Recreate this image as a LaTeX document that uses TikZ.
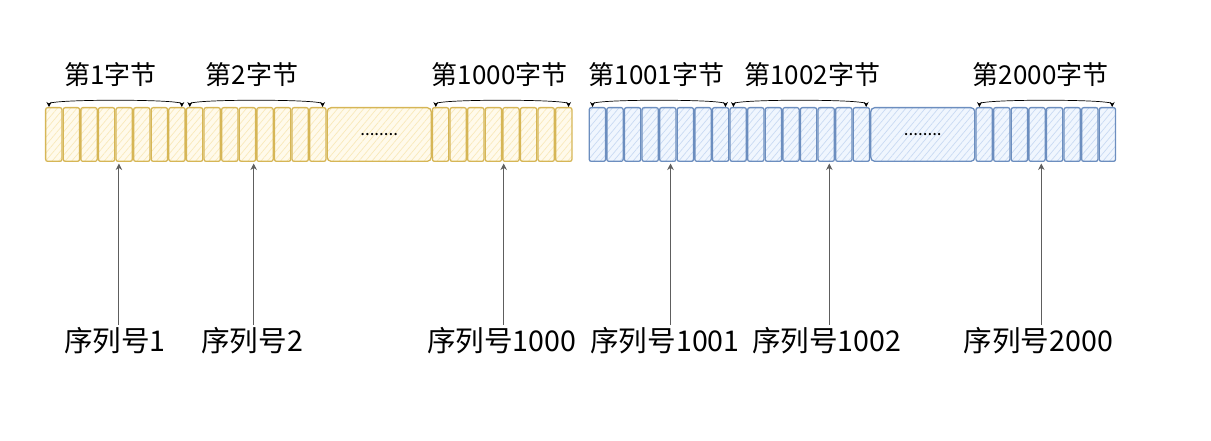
\documentclass[tikz,border=0pt]{standalone}
\usepackage{fontspec}
\setmainfont{Noto Sans CJK SC}
\usetikzlibrary{positioning, matrix, arrows.meta, patterns.meta}
\definecolor{ylwline}{HTML}{D6B656}
\definecolor{ylwfill}{HTML}{FFF2CC}
\definecolor{bluline}{HTML}{6C8EBF}
\definecolor{blufill}{HTML}{DAE8FC}
\definecolor{arrgray}{HTML}{5E5E5E}

\begin{document}
\begin{tikzpicture}[x=1pt, y=-1pt,
        bit/.style={draw, rounded corners=2pt, line width=1.3pt, minimum width=16.3pt,
            minimum height=53.7pt, inner sep=0pt, outer sep=0pt},
        ybit/.style={bit, draw=ylwline, preaction={fill=ylwfill!40},
            pattern={Lines[angle=50, distance=5pt, line width=0.7pt]}, pattern color=ylwfill!85!ylwline},
        bbit/.style={bit, draw=bluline, preaction={fill=blufill!40},
            pattern={Lines[angle=50, distance=5pt, line width=0.7pt]}, pattern color=blufill!85!bluline},
        gapbox/.style={minimum width=104pt, minimum height=53.7pt, rounded corners=4pt, font=\fontsize{17}{17}\selectfont},
        toplbl/.style={font=\fontsize{26}{26}\selectfont, inner sep=0pt},
        seqlbl/.style={font=\fontsize{28.6}{28.6}\selectfont, inner sep=0pt},
        arr/.style={-{Stealth[length=6.5pt, width=6.5pt]}, draw=arrgray, line width=0.9pt, shorten >=1.5pt, shorten <=3pt},
        brc/.style={{Stealth[length=5pt, width=5pt]}-{Stealth[length=5pt, width=5pt]}, line width=0.7pt},
        byterow/.style={matrix of nodes, nodes in empty cells, column sep=0pt},
        every matrix/.style={inner sep=0pt, outer sep=0pt, ampersand replacement=\&},
    ]
    \useasboundingbox (0,0) rectangle (1211,441);

    % === yellow bytes ===
    \matrix (Y1) [byterow, nodes={ybit}, anchor=north west] at (45,107) {
        \& \& \& \& \& \& \& \\
    };
    \matrix (Y2) [byterow, nodes={ybit}, right=0pt of Y1] {
        \& \& \& \& \& \& \& \\
    };
    \node[ybit, gapbox, right=0.6pt of Y2] (YD) {........};
    \matrix (Y3) [byterow, nodes={ybit}, right=0.6pt of YD] {
        \& \& \& \& \& \& \& \\
    };

    % === blue bytes ===
    \matrix (B1) [byterow, nodes={bbit}, right=16pt of Y3] {
        \& \& \& \& \& \& \& \\
    };
    \matrix (B2) [byterow, nodes={bbit}, right=0pt of B1] {
        \& \& \& \& \& \& \& \\
    };
    \node[bbit, gapbox, right=0.6pt of B2] (BD) {........};
    \matrix (B3) [byterow, nodes={bbit}, right=0.6pt of BD] {
        \& \& \& \& \& \& \& \\
    };

    % === byte labels ===
    \foreach \g/\dx/\t in {Y1/-5/第1字节, Y2/-4/第2字节, Y3/-2.5/第1000字节,
            B1/-2.5/第1001字节, B2/12.5/第1002字节, B3/-5/第2000字节} {
        \node[toplbl] (T\g) at ([xshift=\dx pt, yshift=32pt]\g.north) {\t};
        \draw[brc] ([xshift=4pt]\g.north west) .. controls ([xshift=4pt, yshift=8pt]\g.north west)
            and ([xshift=-4pt, yshift=8pt]\g.north east) .. ([xshift=-4pt]\g.north east);
    }

    % === sequence numbers ===
    \node[seqlbl] (S1) at ([xshift=-0.5pt, yshift=-179pt]Y1.south) {序列号1};
    \node[seqlbl] (S2) at ([xshift=-4pt, yshift=-179pt]Y2.south) {序列号2};
    \node[seqlbl] (S3) at ([xshift=-0.5pt, yshift=-179pt]Y3.south) {序列号1000};
    \node[seqlbl] (S4) at ([xshift=6pt, yshift=-179pt]B1.south) {序列号1001};
    \node[seqlbl] (S5) at ([xshift=27pt, yshift=-179pt]B2.south) {序列号1002};
    \node[seqlbl] (S6) at ([xshift=-7.5pt, yshift=-179pt]B3.south) {序列号2000};

    \foreach \s/\g/\dx in {S1/Y1/4, S2/Y2/1.5, S3/Y3/2, S4/B1/5.5, S5/B2/2.5, S6/B3/3} {
        \coordinate (p\s) at ([xshift=\dx pt]\s.north);
        \draw[arr] (p\s) -- (p\s |- \g.south);
    }
\end{tikzpicture}
\end{document}
